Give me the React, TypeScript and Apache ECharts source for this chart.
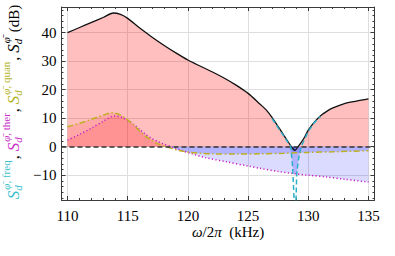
import React, { useEffect, useRef } from 'react';
import * as echarts from 'echarts';

// ---- data ----
const totalX = [110, 111, 112, 113, 113.8, 114.4, 115, 116, 117, 118, 119, 120, 121, 122, 123, 124, 125, 126, 126.5, 127, 127.6, 128, 128.3, 128.6, 128.9, 129.15, 129.4, 129.7, 130, 130.5, 131, 131.5, 132, 133, 134, 135];
const totalY = [40.0, 41.8, 43.6, 45.4, 46.9, 46.4, 45.0, 41.6, 38.5, 35.6, 32.9, 30.4, 28.3, 26.3, 24.1, 21.6, 18.7, 14.9, 12.9, 10.2, 6.4, 3.8, 1.9, 0, -1.3, 0, 1.4, 3.4, 5.8, 8.6, 10.8, 12.3, 13.5, 15.1, 16.0, 16.8];

const quanX = [110, 111, 112, 113, 113.7, 114.3, 115, 115.5, 116, 116.5, 117, 117.5, 118.2, 119.2, 120.2, 121, 122, 124, 126, 128, 129, 130, 132, 135];
const quanY = [7.0, 8.2, 9.6, 11.1, 11.9, 11.3, 9.4, 7.6, 5.5, 3.6, 2.1, 1.0, 0, -1.3, -2.0, -2.3, -2.5, -2.6, -2.5, -2.3, -2.1, -2.0, -1.8, -1.4];

const therX = [110, 111, 112, 113, 113.9, 114.5, 115, 115.5, 116, 116.5, 117, 117.5, 118, 118.6, 119.2, 120.4, 121.5, 123.2, 125, 126, 127.5, 128.7, 130, 131.5, 133, 135];
const therY = [2.3, 4.3, 6.5, 9.0, 10.8, 10.3, 9.2, 7.8, 6.0, 4.3, 2.9, 1.8, 0.9, 0, -0.9, -2.6, -3.9, -5.3, -6.8, -7.6, -8.7, -9.4, -10.0, -10.6, -11.4, -12.4];

const freqX = [127.0, 127.5, 128.0, 128.3, 128.54, 128.7, 128.82, 128.9, 128.98, 129.04, 129.17, 129.4, 129.7, 130.0, 130.5, 131.0];
const freqY = [9.8, 6.6, 3.5, 1.5, 0, -7, -18.7, -40, -18.7, -9.4, -4.7, 0, 2.6, 5.4, 8.4, 10.6];

const xTicks = [110, 115, 120, 125, 130, 135];
const yTicks = [-10, 0, 10, 20, 30, 40];

const X_MIN = 109.5, X_MAX = 135.5;
const Y_MIN = -18.7, Y_MAX = 49.0;

const C_FREQ = '#2AAFC8';
const C_THER = '#C81EC8';
const C_QUAN = '#BDB020';
const L_FREQ = '#3DBFCC';
const L_THER = '#C832C8';
const L_QUAN = '#B4B428';

const FONT = 'Liberation Serif, serif';
const CFONT = 'Liberation Serif';

function interp(xs: number[], ys: number[], x: number) {
  if (x <= xs[0]) return ys[0];
  for (let i = 1; i < xs.length; i++) {
    if (x <= xs[i]) {
      const t = (x - xs[i - 1]) / (xs[i] - xs[i - 1]);
      return ys[i - 1] + t * (ys[i] - ys[i - 1]);
    }
  }
  return ys[ys.length - 1];
}

const zip = (xs: number[], ys: number[]) => xs.map((x, i) => [x, ys[i]]);

function measure(text: string, font: string) {
  const c = document.createElement('canvas').getContext('2d')!;
  c.font = font;
  return c.measureText(text).width;
}

function buildYLabel() {
  const groups = [
    { color: L_FREQ, sup: 'freq' },
    { color: L_THER, sup: 'ther' },
    { color: L_QUAN, sup: 'quan' },
    { color: '#000', sup: '' },
  ];
  const fsS = 17, fsSm = 11, fsC = 16;
  const els: any[] = [];
  let u = 0;
  const put = (text: string, x: number, base: number, fs: number, italic: boolean, color: string) => {
    els.push({
      type: 'text',
      x,
      y: base - 0.32 * fs,
      style: {
        text,
        fill: color,
        fontSize: fs,
        fontFamily: FONT,
        fontStyle: italic ? 'italic' : 'normal',
        align: 'left',
        textAlign: 'left',
        verticalAlign: 'middle',
        textVerticalAlign: 'middle',
      },
    });
  };
  groups.forEach((g, gi) => {
    const wS = measure('S', `italic ${fsS}px ${CFONT}`);
    put('S', u, 18.5, fsS, true, g.color);
    const wd = measure('d', `italic ${fsSm}px ${CFONT}`);
    put('d', u + wS, 21.5, fsSm, true, g.color);
    const wphi = measure('φ\u0304', `italic ${fsSm}px ${CFONT}`);
    put('φ\u0304', u + wS + 1, 9.5, fsSm, true, g.color);
    let wsup = wphi + 1;
    if (g.sup) {
      const t = ', ' + g.sup;
      put(t, u + wS + 1 + wphi, 9.5, fsSm, false, g.color);
      wsup += measure(t, `${fsSm}px ${CFONT}`);
    }
    u += wS + Math.max(wd, wsup) + 1;
    if (gi < groups.length - 1) {
      put(', ', u, 18.5, fsC, false, '#000');
      u += measure(', ', `${fsC}px ${CFONT}`);
    } else {
      put(' (dB)', u, 18.5, 15, false, '#000');
      u += measure(' (dB)', `15px ${CFONT}`);
    }
  });
  return { els, length: u };
}

export default function App() {
  const ref = useRef<HTMLDivElement>(null);
  useEffect(() => {
    const chart = echarts.init(ref.current!, null, { renderer: 'svg' });

    const xMinor: number[] = [];
    for (let v = 110; v <= 135; v++) if (xTicks.indexOf(v) < 0) xMinor.push(v);
    const yMinor: number[] = [];
    for (let v = -18; v <= 48; v += 2) if (yTicks.indexOf(v) < 0) yMinor.push(v);

    const axisColor = '#3a3a3a';
    const lbl = { fontFamily: FONT, fontSize: 15, color: '#000' };
    const fmtX = (v: number) => (Math.abs(v - Math.round(v / 5) * 5) < 1e-6 ? String(v) : '');
    const fmtY = (v: number) => {
      if (Math.abs(v - Math.round(v / 10) * 10) > 1e-6) return '';
      return v < 0 ? '\u2212' + Math.abs(v) : String(v);
    };

    const mkX = (pos: string, ticks: number[], len: number, main: boolean) => ({
      type: 'value', gridIndex: 0, position: pos, min: X_MIN, max: X_MAX,
      axisLine: { show: main, onZero: false, lineStyle: { color: axisColor, width: 1 } },
      axisTick: { show: true, inside: true, length: len, customValues: ticks, lineStyle: { color: axisColor, width: 1 } },
      axisLabel: main && pos === 'bottom'
        ? { show: true, customValues: xTicks, formatter: fmtX, margin: 8, ...lbl }
        : { show: false },
      splitLine: { show: main && pos === 'bottom', lineStyle: { color: '#dedede', width: 1 } },
    });
    const mkY = (pos: string, ticks: number[], len: number, main: boolean) => ({
      type: 'value', gridIndex: 0, position: pos, min: Y_MIN, max: Y_MAX,
      axisLine: { show: main, onZero: false, lineStyle: { color: axisColor, width: 1 } },
      axisTick: { show: true, inside: true, length: len, customValues: ticks, lineStyle: { color: axisColor, width: 1 } },
      axisLabel: main && pos === 'left'
        ? { show: true, customValues: yTicks, formatter: fmtY, margin: 5, ...lbl }
        : { show: false },
      splitLine: { show: main && pos === 'left', lineStyle: { color: '#dedede', width: 1 } },
    });

    const fill = (xs: number[], ys: number[], color: string) => ({
      type: 'line', xAxisIndex: 0, yAxisIndex: 0,
      data: zip(xs, ys), symbol: 'none', showSymbol: false, smooth: 0.3,
      lineStyle: { opacity: 0, width: 0 },
      areaStyle: { color, opacity: 1 }, z: 2, silent: true,
    });
    const pos = (ys: number[]) => ys.map((v) => Math.max(v, 0));
    const neg = (ys: number[]) => ys.map((v) => Math.min(v, 0));

    const freqFill = freqX.map((x, i) => Math.min(0, Math.max(freqY[i], interp(therX, therY, x))));

    const series: any[] = [
      fill(totalX, pos(totalY), 'rgba(255,0,0,0.25)'),
      fill(totalX, neg(totalY), 'rgba(0,0,255,0.25)'),
      fill(quanX, pos(quanY), 'rgba(255,0,0,0.12)'),
      fill(quanX, neg(quanY), 'rgba(0,0,255,0.18)'),
      fill(therX, pos(therY), 'rgba(255,0,0,0.12)'),
      fill(therX, neg(therY), 'rgba(0,0,255,0.14)'),
      { ...fill(freqX, freqFill, 'rgba(0,0,255,0.18)'), smooth: false },
      {
        type: 'line', data: zip(therX, therY), symbol: 'none', smooth: 0.3, z: 3,
        lineStyle: { color: C_THER, width: 1.5, type: [1.2, 2.3] },
      },
      {
        type: 'line', data: zip(quanX, quanY), symbol: 'none', smooth: 0.3, z: 3,
        lineStyle: { color: C_QUAN, width: 1.5, type: [6, 2.5, 1.5, 2.5] },
      },
      {
        type: 'line', data: zip(totalX, totalY), symbol: 'none', smooth: 0.3, z: 4,
        lineStyle: { color: '#111', width: 1.3 },
        markLine: {
          silent: true, symbol: 'none', label: { show: false },
          lineStyle: { color: '#333', width: 1.5, type: [5, 3] },
          data: [{ yAxis: 0 }],
        },
      },
      {
        type: 'line', data: zip(freqX, freqY), symbol: 'none', smooth: false, z: 5,
        lineStyle: { color: C_FREQ, width: 1.5, type: [5, 3] },
      },
    ];

    const yl = buildYLabel();
    const centerY = 102;

    chart.setOption({
      animation: false,
      backgroundColor: '#fff',
      grid: { left: 61.5, right: 20.5, top: 7, bottom: 56, containLabel: false },
      xAxis: [
        mkX('bottom', xTicks, 4, true),
        mkX('top', xTicks, 4, true),
        mkX('bottom', xMinor, 2, false),
        mkX('top', xMinor, 2, false),
      ],
      yAxis: [
        mkY('left', yTicks, 4, true),
        mkY('right', yTicks, 4, true),
        mkY('left', yMinor, 2, false),
        mkY('right', yMinor, 2, false),
      ],
      series,
      graphic: [
        {
          type: 'group',
          x: 0,
          y: centerY + yl.length / 2,
          rotation: Math.PI / 2,
          children: yl.els,
        },
        {
          type: 'text',
          x: 228,
          y: 232,
          style: {
            text: '{i|ω}/2{i|π}  (kHz)',
            fontFamily: FONT, fontSize: 15, fill: '#000',
            align: 'center', textAlign: 'center',
            verticalAlign: 'middle', textVerticalAlign: 'middle',
            rich: { i: { fontFamily: FONT, fontSize: 15, fontStyle: 'italic' } },
          },
        },
      ],
    });
    return () => chart.dispose();
  }, []);
  return (
    <div
      ref={ref}
      style={{ position: 'fixed', left: 0, top: 0, width: 395, height: 256, background: '#fff' }}
    />
  );
}
